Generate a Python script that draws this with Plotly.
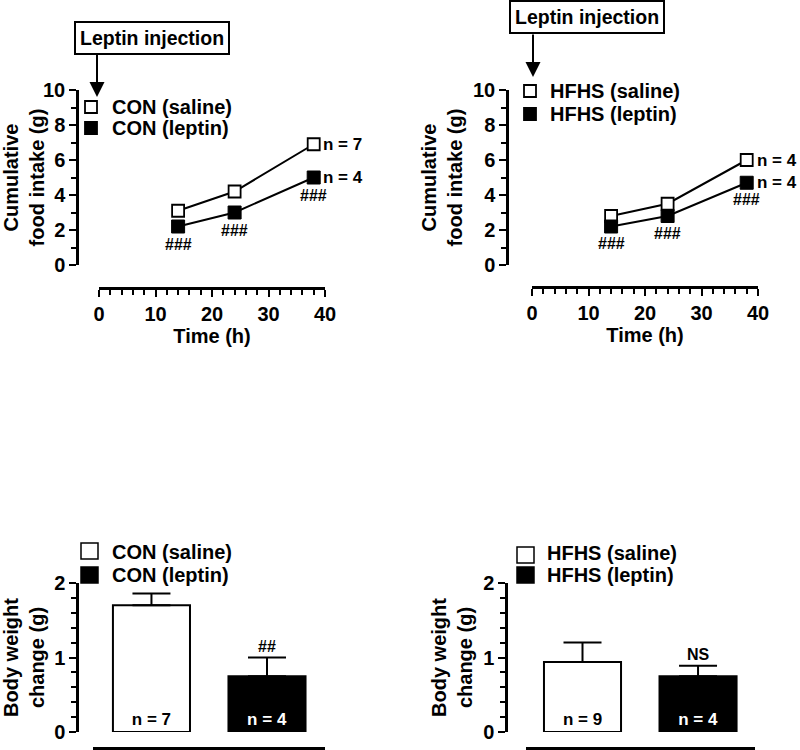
import plotly.graph_objects as go

# ---------------- data ----------------
time_h = [14, 24, 38]
con_saline = [3.1, 4.2, 6.9]
con_leptin = [2.2, 3.0, 5.0]
hfhs_saline = [2.8, 3.5, 6.0]
hfhs_leptin = [2.2, 2.8, 4.7]

con_groups = ["CON (saline)", "CON (leptin)"]
con_bw = [1.70, 0.75]
con_bw_err = [0.16, 0.25]
con_n = ["n = 7", "n = 4"]

hfhs_groups = ["HFHS (saline)", "HFHS (leptin)"]
hfhs_bw = [0.94, 0.75]
hfhs_bw_err = [0.26, 0.14]
hfhs_n = ["n = 9", "n = 4"]

W, H = 800, 750
FONT = "Liberation Sans, Arial, Helvetica, sans-serif"
LW = 2.5


def px(x):
    return x / W


def py(y):
    return 1 - y / H


fig = go.Figure()

# ---------------- line charts ----------------
def add_lines(sal, lep, xa, ya, sal_name, lep_name):
    fig.add_trace(go.Scatter(x=time_h, y=sal, mode="lines+markers", name=sal_name,
                             xaxis=xa, yaxis=ya, showlegend=False, cliponaxis=False,
                             line=dict(color="black", width=2),
                             marker=dict(symbol="square", size=12, color="white",
                                         line=dict(color="black", width=1.8))))
    fig.add_trace(go.Scatter(x=time_h, y=lep, mode="lines+markers", name=lep_name,
                             xaxis=xa, yaxis=ya, showlegend=False, cliponaxis=False,
                             line=dict(color="black", width=2),
                             marker=dict(symbol="square", size=13, color="black",
                                         line=dict(color="black", width=1))))


add_lines(con_saline, con_leptin, "x", "y", "CON (saline)", "CON (leptin)")
add_lines(hfhs_saline, hfhs_leptin, "x2", "y2", "HFHS (saline)", "HFHS (leptin)")

# ---------------- bar charts ----------------
def add_bars(groups, vals, errs, ns, xa, ya):
    fig.add_trace(go.Bar(x=groups, y=vals, xaxis=xa, yaxis=ya, width=0.667,
                         showlegend=False,
                         marker=dict(color=["white", "black"],
                                     line=dict(color="black", width=2)),
                         error_y=dict(type="data", symmetric=False, array=errs,
                                      arrayminus=[0, 0], color="black",
                                      thickness=2, width=19),
                         text=ns, textposition="inside", insidetextanchor="start",
                         textangle=0,
                         insidetextfont=dict(family=FONT, size=17, weight="bold",
                                             color=["black", "white"])))


add_bars(con_groups, con_bw, con_bw_err, con_n, "x3", "y3")
add_bars(hfhs_groups, hfhs_bw, hfhs_bw_err, hfhs_n, "x4", "y4")

tickfont = dict(family=FONT, size=20, color="black", weight="bold")
titlefont = dict(family=FONT, size=20, color="black", weight="bold")


def xline(dom, pos, rng, title=None, show=True, dtick=None, minor=None):
    d = dict(domain=dom, anchor="free", position=pos, range=rng, automargin=False,
             showline=True, linecolor="black", linewidth=LW, showgrid=False,
             zeroline=False, fixedrange=True)
    if show:
        d.update(ticks="outside", ticklen=7, tickwidth=2, tickcolor="black",
                 tickfont=tickfont, dtick=dtick, tick0=0,
                 minor=dict(dtick=minor, ticklen=5, tickwidth=2,
                            tickcolor="black", ticks="outside", showgrid=False),
                 title=dict(text=title, font=titlefont, standoff=2))
    else:
        d.update(showticklabels=False, ticks="")
    return d


def yline(dom, pos, rng, title, dtick, minor):
    return dict(domain=dom, anchor="free", position=pos, range=rng, automargin=False,
                showline=True, linecolor="black", linewidth=LW, showgrid=False,
                zeroline=False, fixedrange=True,
                ticks="outside", ticklen=7, tickwidth=2, tickcolor="black",
                tickfont=tickfont, dtick=dtick, tick0=0,
                minor=dict(dtick=minor, ticklen=5, tickwidth=2,
                           tickcolor="black", ticks="outside", showgrid=False),
                title=dict(text=title, font=titlefont, standoff=4))


top_ydom = [py(265), py(90)]
bot_ydom = [py(732), py(583)]

fig.update_layout(
    template="none",
    width=W, height=H, margin=dict(l=0, r=0, t=0, b=0, pad=0, autoexpand=False),
    paper_bgcolor="white", plot_bgcolor="white", showlegend=False,
    font=dict(family=FONT, color="black"),
    xaxis=xline([px(99), px(325)], py(288), [0, 40], "Time (h)", dtick=10, minor=2),
    yaxis=yline(top_ydom, px(77), [0, 10], "Cumulative<br>food intake (g)", 2, 1),
    xaxis2=xline([px(532), px(758)], py(287), [0, 40], "Time (h)", dtick=10, minor=2),
    yaxis2=yline(top_ydom, px(507), [0, 10], "Cumulative<br>food intake (g)", 2, 1),
    xaxis3=xline([px(93), px(325)], py(748), [-0.506, 1.502], show=False),
    yaxis3=yline(bot_ydom, px(77), [0, 2], "Body weight<br>change (g)", 1, 0.2),
    xaxis4=xline([px(526), px(755)], py(748), [-0.489, 1.493], show=False),
    yaxis4=yline(bot_ydom, px(506), [0, 2], "Body weight<br>change (g)", 1, 0.2),
)

ann = []
shapes = []


def text(x, y, s, size=17, xanchor="left", xref="paper", yref="paper", yshift=0, xshift=0, color="black"):
    ann.append(dict(x=x, y=y, xref=xref, yref=yref, text=s, showarrow=False,
                    xanchor=xanchor, yanchor="middle", xshift=xshift, yshift=yshift,
                    font=dict(family=FONT, size=size, color=color, weight="bold")))


# "Leptin injection" boxes + arrows
for (cx, cy, ax_x, y0, y1) in [(152, 37.5, 97, 53, 97), (587, 16.5, 533, 33, 77)]:
    ann.append(dict(x=px(cx), y=py(cy), xref="paper", yref="paper",
                    text="Leptin injection", showarrow=False,
                    xanchor="center", yanchor="middle",
                    bordercolor="black", borderwidth=2, borderpad=4, bgcolor="white",
                    font=dict(family=FONT, size=19.5, color="black", weight="bold")))
    ann.append(dict(x=px(ax_x), y=py(y1), xref="paper", yref="paper", text="",
                    showarrow=True, axref="pixel", ayref="pixel", ax=0, ay=-(y1 - y0),
                    arrowhead=2, arrowsize=1.5, arrowwidth=2, arrowcolor="black"))

# line-chart legends (marker shapes + text)
def sq(x, y, s, fill):
    shapes.append(dict(type="rect", xref="paper", yref="paper",
                       x0=px(x - s / 2), x1=px(x + s / 2), y0=py(y + s / 2), y1=py(y - s / 2),
                       fillcolor=fill, line=dict(color="black", width=1.8)))


sq(91, 107, 12, "white"); text(px(110), py(107), "CON (saline)", 20)
sq(91, 128, 12, "black"); text(px(110), py(128), "CON (leptin)", 20)
sq(530, 91, 12, "white"); text(px(548), py(91), "HFHS (saline)", 20)
sq(530, 114, 12, "black"); text(px(548), py(114), "HFHS (leptin)", 20)

# bar legends
def box(x0, y0, x1, y1, fill):
    shapes.append(dict(type="rect", xref="paper", yref="paper",
                       x0=px(x0), x1=px(x1), y0=py(y1), y1=py(y0),
                       fillcolor=fill, line=dict(color="black", width=1.5)))


box(81, 543, 98, 559, "white"); text(px(110), py(552), "CON (saline)", 20)
box(81, 567, 98, 583, "black"); text(px(110), py(575), "CON (leptin)", 20)
box(517, 547, 534, 563, "white"); text(px(545), py(553), "HFHS (saline)", 20)
box(517, 567, 534, 583, "black"); text(px(545), py(575), "HFHS (leptin)", 20)

# n labels on line charts
text(time_h[-1], con_saline[-1], "n = 7", 17, xref="x", yref="y", xshift=7)
text(time_h[-1], con_leptin[-1], "n = 4", 17, xref="x", yref="y", xshift=7)
text(time_h[-1], hfhs_saline[-1], "n = 4", 17, xref="x2", yref="y2", xshift=8)
text(time_h[-1], hfhs_leptin[-1], "n = 4", 17, xref="x2", yref="y2", xshift=8)

# ### significance marks under leptin points
for t, v in zip(time_h, con_leptin):
    text(t, v, "###", 16, xanchor="center", xref="x", yref="y", yshift=-18)
for t, v in zip(time_h, hfhs_leptin):
    text(t, v, "###", 16, xanchor="center", xref="x2", yref="y2", yshift=-17)

# bar significance marks
text(con_groups[1], con_bw[1] + con_bw_err[1], "##", 16, xanchor="center", xref="x3", yref="y3", yshift=11)
text(hfhs_groups[1], hfhs_bw[1] + hfhs_bw_err[1], "NS", 16, xanchor="center", xref="x4", yref="y4", yshift=11)

fig.update_layout(annotations=ann, shapes=shapes)
fig.write_html("out.html", config={"displayModeBar": False},
               post_script="document.body.style.margin='0';document.body.style.overflow='hidden';")
